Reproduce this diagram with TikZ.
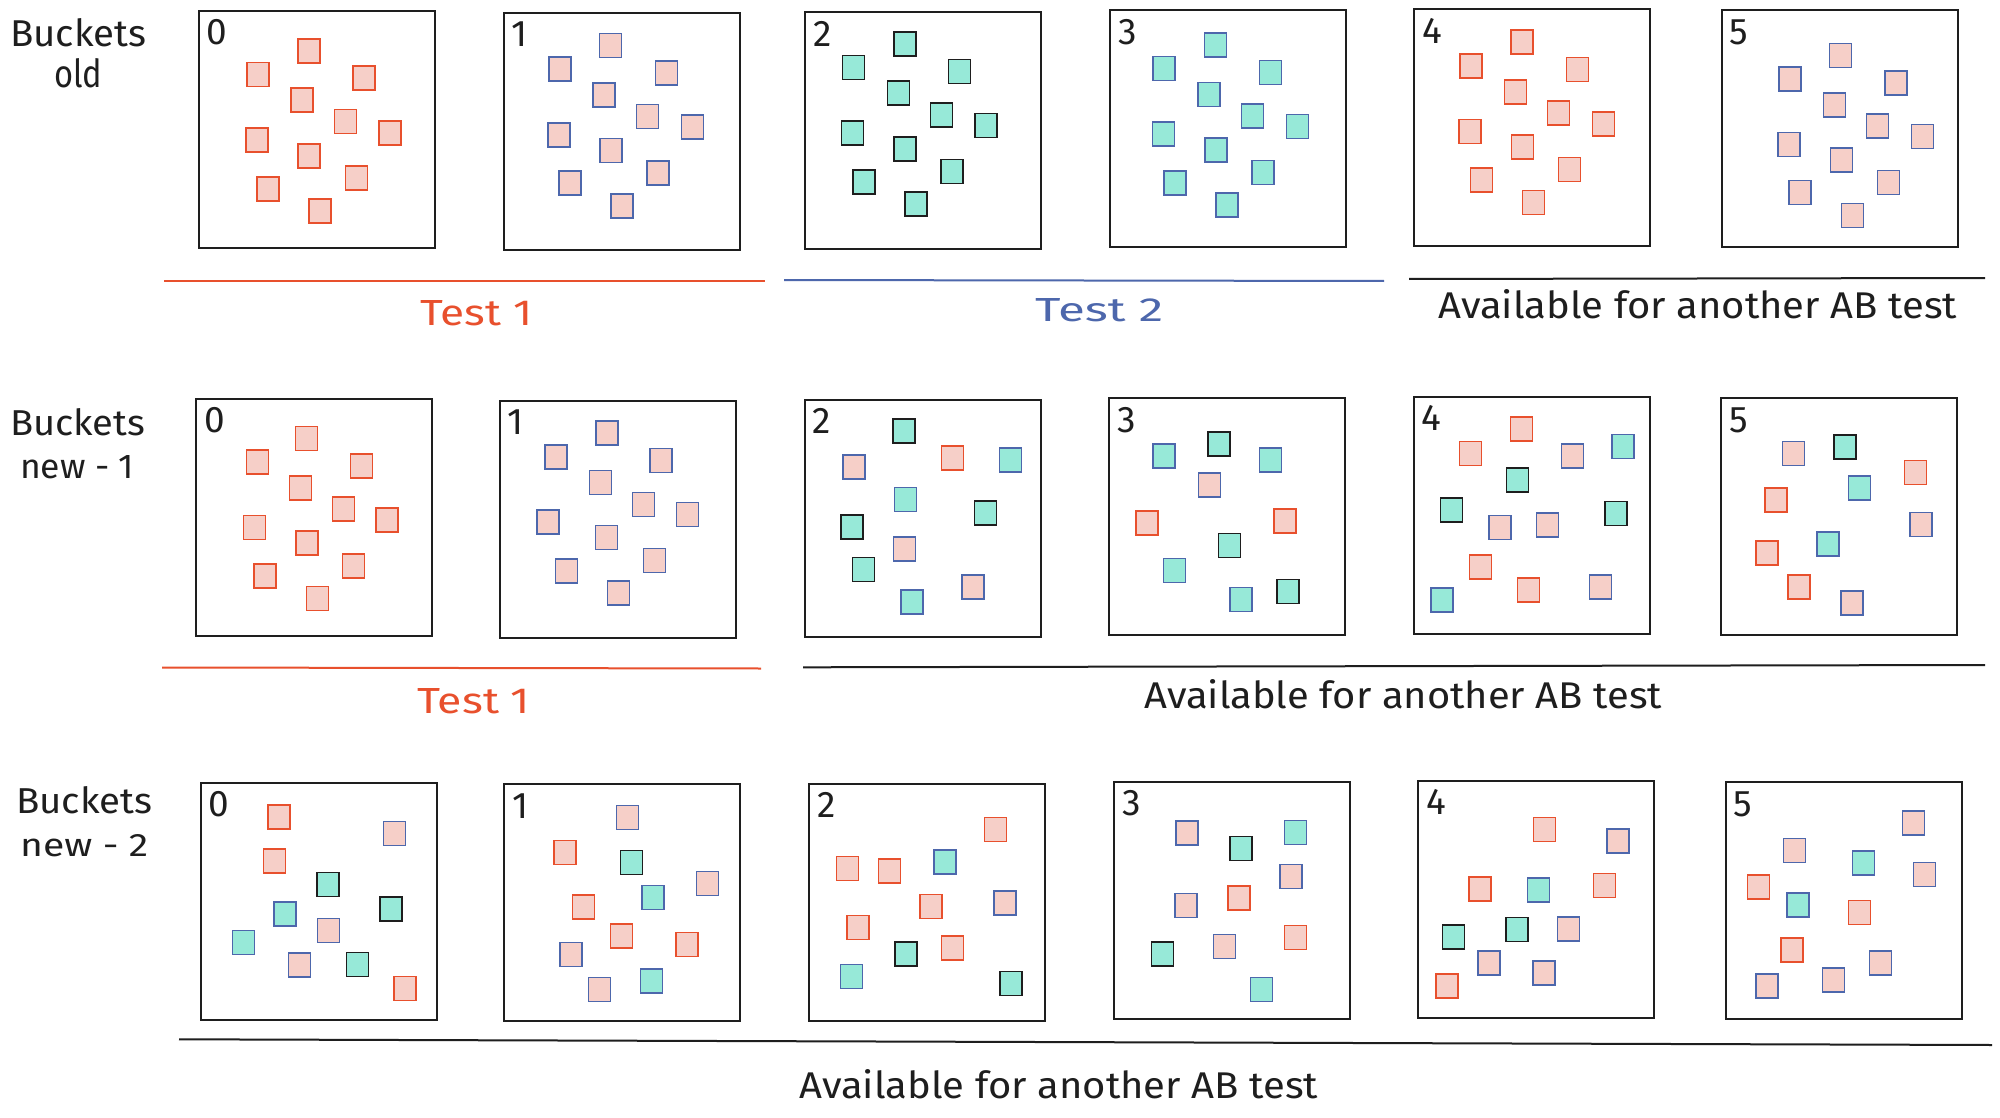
\documentclass[tikz,border=0pt]{standalone}
\usepackage{fontspec}
\setmainfont{Fira Sans}
\usetikzlibrary{calc}
\definecolor{pinkf}{HTML}{F6CFC8}
\definecolor{tealf}{HTML}{97E9D8}
\definecolor{redc}{HTML}{E8502D}
\definecolor{bluec}{HTML}{4D67AC}
\definecolor{darkc}{HTML}{1E1E1E}
\newcommand\sqlist[2]{%
  \foreach \st/\cx/\cy [count=\i] in {#2} {\node[\st] (#1s\i) at (\cx,\cy) {};}%
}
\begin{document}
\begin{tikzpicture}[x=1pt,y=-1pt,
  sq/.style={draw, line width=1.5pt, minimum width=22pt, minimum height=24pt, inner sep=0pt},
  pr/.style={sq, fill=pinkf, draw=redc},
  pb/.style={sq, fill=pinkf, draw=bluec},
  td/.style={sq, fill=tealf, draw=darkc},
  tb/.style={sq, fill=tealf, draw=bluec},
  bucket/.style={draw=darkc, line width=2pt, fill=white, inner sep=0pt, minimum width=236pt, minimum height=237pt},
  num/.style={anchor=base west, inner sep=0pt, text=darkc, font=\fontsize{37}{37}\selectfont},
  txt/.style={anchor=base west, inner sep=0pt, font=\fontsize{40}{40}\selectfont},
  uline/.style={line width=2pt}
]
\useasboundingbox (0,0) rectangle (2000,1118);
\fill[white] (0,0) rectangle (2000,1118);

% ---------------- Row 1 ----------------
\node[txt, text=darkc] (r1t1) at (10,46.7) {\resizebox{136pt}{28pt}{Buckets}};
\node[txt, text=darkc] (r1t2) at (54,88) {\resizebox{48pt}{29pt}{old}};

\node[bucket] (r1b0) at (316.5,129.3) {};
\node[bucket] (r1b1) at (621.5,131.3) {};
\node[bucket] (r1b2) at (923.2,130.6) {};
\node[bucket] (r1b3) at (1228.4,129) {};
\node[bucket] (r1b4) at (1532.2,128) {};
\node[bucket] (r1b5) at (1839.7,128.8) {};
\foreach \b in {0,...,5} {\node[num] (r1n\b) at ($(r1b\b.north west)+(9,35)$) {\b};}

\sqlist{r1b0}{pr/309/51,pr/258/74.5,pr/364/78,pr/302/100,pr/345.5/121.5,pr/390/133,pr/257/140,pr/309/156,pr/356.5/178,pr/268/189,pr/320/211}
\sqlist{r1b1}{pb/610.7/45.7,pb/560/68.8,pb/666.5/73,pb/604/94.8,pb/647.5/116.5,pb/692.7/126.8,pb/559/134.8,pb/611/150.5,pb/658/173,pb/570/183,pb/622/206}
\sqlist{r1b2}{td/904.8/44,td/853.3/67.7,td/959.7/71.5,td/898.4/93,td/941.3/115,td/985.8/125.5,td/852.4/133,td/905/148.8,td/951.8/171.5,td/863.8/182,td/916/204}
\sqlist{r1b3}{tb/1215.5/44.8,tb/1164.1/68.5,tb/1270.5/72.3,tb/1209/94.5,tb/1252.3/115.8,tb/1297.4/126.5,tb/1163.6/134,tb/1216/150,tb/1263.2/172.5,tb/1174.8/182.8,tb/1227.2/205}
\sqlist{r1b4}{pr/1522.1/42.2,pr/1471/65.8,pr/1577.4/69.7,pr/1515.4/91.8,pr/1558.4/113,pr/1603.4/123.8,pr/1470/131.7,pr/1522.3/147,pr/1569.3/169.7,pr/1481.3/179.8,pr/1533.4/202.5}
\sqlist{r1b5}{pb/1840.7/55.5,pb/1789.8/79,pb/1896/82.8,pb/1834.6/104.8,pb/1877.4/126,pb/1922.4/136.7,pb/1788.8/144.5,pb/1841.3/160,pb/1888.3/182.7,pb/1800.1/192.5,pb/1852.7/215.3}

\coordinate (l1a) at (164,280.5); \coordinate (l1b) at (765,280.5);
\coordinate (l1c) at (784,280); \coordinate (l1d) at (1384,281);
\coordinate (l1e) at (1409,279); \coordinate (l1f) at (1985,278);
\draw[uline, redc] (l1a) -- (l1b);
\draw[uline, bluec] (l1c) -- (l1d);
\draw[uline, darkc] (l1e) -- (l1f);

\node[txt, text=redc] (r1l1) at (420,325) {\resizebox{112pt}{25pt}{Test 1}};
\node[txt, text=bluec] (r1l2) at (1035,321) {\resizebox{128pt}{23pt}{Test 2}};
\node[txt, text=darkc] (r1l3) at (1438,318.3) {\resizebox{519pt}{29pt}{Available for another AB test}};

% ---------------- Row 2 ----------------
\node[txt, text=darkc] (r2t1) at (10,435) {\resizebox{135pt}{27pt}{Buckets}};
\node[txt, text=darkc] (r2t2) at (20,478) {\resizebox{114pt}{23pt}{new - 1}};

\node[bucket] (r2b0) at (314,517.3) {};
\node[bucket] (r2b1) at (617.5,519.2) {};
\node[bucket] (r2b2) at (922.5,518.3) {};
\node[bucket] (r2b3) at (1227.4,516.5) {};
\node[bucket] (r2b4) at (1531.5,515.2) {};
\node[bucket] (r2b5) at (1839.2,516.5) {};
\foreach \b in {0,...,5} {\node[num] (r2n\b) at ($(r2b\b.north west)+(9,35)$) {\b};}

\sqlist{r2b0}{pr/306.7/438.5,pr/257.7/461.8,pr/361.7/465.8,pr/300.5/488,pr/343.3/509,pr/387.1/519.8,pr/254.4/527.3,pr/307.2/543,pr/353.7/565.8,pr/265.2/575.8,pr/317.7/598.3}
\sqlist{r2b1}{pb/606.9/433.2,pb/556.2/456.8,pb/661.2/460.5,pb/600.7/482.3,pb/643.3/504.5,pb/687.3/514.3,pb/547.8/521.8,pb/606.7/537.7,pb/654.7/560.5,pb/566.7/570.8,pb/618.7/593}
\sqlist{r2b2}{td/904/431.2,pb/854.1/466.8,pr/952.5/458.2,tb/1010.5/459.8,tb/905.3/499.5,td/985.4/513,td/852/527,pb/904.4/549,td/863.4/569.5,pb/973.2/587,tb/912/602}
\sqlist{r2b3}{tb/1164/456.2,td/1219.2/444,tb/1270.5/460,pb/1209.3/485,pr/1146.8/523.2,pr/1284.8/521,td/1229.6/545.3,tb/1174.6/570.3,tb/1240.8/599.3,td/1288.2/591.3}
\sqlist{r2b4}{pr/1521.5/429.2,pr/1470.3/453.5,pb/1572.3/455.8,tb/1622.9/446.7,td/1517.6/480,td/1451.7/509.8,pb/1500.2/527.3,pb/1547.7/525.2,td/1616/513.3,pr/1480.4/566.8,pr/1528.5/589.8,pb/1600.7/587,tb/1442.1/600.2}
\sqlist{r2b5}{pb/1793.4/453.5,td/1845.1/446.8,pr/1915.6/472.5,pr/1776.1/500.2,tb/1859.3/488,pb/1921.2/524.3,tb/1828.2/544,pr/1766.8/552.8,pr/1799/587.2,pb/1851.9/603}

\coordinate (l2a) at (162,667.5); \coordinate (l2b) at (761,668.5);
\coordinate (l2c) at (803,667.3); \coordinate (l2d) at (1985,665);
\draw[uline, redc] (l2a) -- (l2b);
\draw[uline, darkc] (l2c) -- (l2d);

\node[txt, text=redc] (r2l1) at (417,713.3) {\resizebox{113pt}{25pt}{Test 1}};
\node[txt, text=darkc] (r2l2) at (1144,708.3) {\resizebox{518pt}{29pt}{Available for another AB test}};

% ---------------- Row 3 ----------------
\node[txt, text=darkc] (r3t1) at (16,813.3) {\resizebox{136pt}{27pt}{Buckets}};
\node[txt, text=darkc] (r3t2) at (20,856.7) {\resizebox{128pt}{22pt}{new - 2}};

\node[bucket] (r3b0) at (318.7,901) {};
\node[bucket] (r3b1) at (622.2,902.8) {};
\node[bucket] (r3b2) at (926.9,902) {};
\node[bucket] (r3b3) at (1231.8,900.3) {};
\node[bucket] (r3b4) at (1535.9,899.3) {};
\node[bucket] (r3b5) at (1843.6,900.5) {};
\foreach \b in {0,...,5} {\node[num] (r3n\b) at ($(r3b\b.north west)+(9,35)$) {\b};}

\sqlist{r3b0}{pr/278.9/817,pb/394.5/833.3,pr/274.6/860.8,td/327.9/884.7,tb/285.1/913.8,td/390.8/908.8,pb/328.4/930.5,tb/243.5/942.5,pb/299.3/964.8,td/357.7/964.5,pr/405.2/988.3}
\sqlist{r3b1}{pb/627.4/817.7,pr/565.2/852.3,td/631.3/862.7,pb/707.7/883.3,tb/653.2/897.5,pr/583.6/907,pr/621.6/936,pr/686.8/944.3,pb/571.1/954.7,tb/651.7/980.8,pb/599.3/989.5}
\sqlist{r3b2}{pr/995.3/829.3,pr/847.6/868.7,pr/889.5/871,tb/945.2/862,pr/931.2/906.7,pb/1004.8/902.8,pr/857.9/927.3,td/906.1/954.2,pr/952.6/948.2,tb/851.5/976.5,td/1011/983.7}
\sqlist{r3b3}{pb/1187.1/833,td/1241/848.3,tb/1295.5/832.7,pb/1291.2/876.3,pb/1186.2/905.3,pr/1239.2/898,pb/1224.6/946.3,pr/1295.3/937.7,td/1162.4/954,tb/1261.6/989.3}
\sqlist{r3b4}{pr/1544.3/829.7,pb/1618/841.2,pr/1479.8/888.8,tb/1538.5/889.8,pr/1604.3/885.7,td/1453.6/936.8,td/1516.9/929.7,pb/1568.7/928.8,pb/1489.2/962.8,pb/1544.1/973,pr/1447.1/985.8}
\sqlist{r3b5}{pb/1913.4/823.2,pb/1794.4/850.5,tb/1863.3/862.8,pb/1924.7/874.3,pr/1758.4/887,tb/1798.1/904.8,pr/1859.4/912.5,pr/1792.1/950.2,pb/1880.6/962.8,pb/1767.2/985.8,pb/1833.4/979.8}

\coordinate (l3a) at (179,1039.3); \coordinate (l3b) at (1992,1045);
\draw[uline, darkc] (l3a) -- (l3b);

\node[txt, text=darkc] (r3l1) at (799,1098.3) {\resizebox{519pt}{29pt}{Available for another AB test}};
\end{tikzpicture}
\end{document}
